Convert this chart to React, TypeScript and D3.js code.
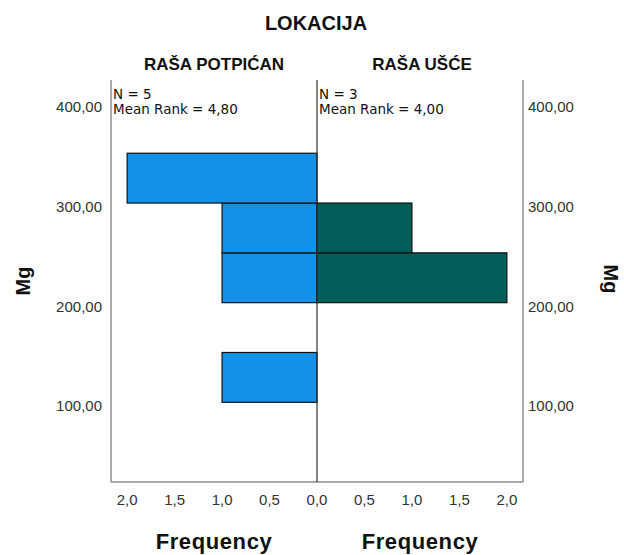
import React from "react";
import * as d3 from "d3";

// ---- data ----
const binStarts = [100, 150, 200, 250, 300, 350];
const binWidth = 50;
const leftCounts = [1, 0, 1, 1, 2, 0]; // RAŠA POTPIĆAN
const rightCounts = [0, 0, 2, 1, 0, 0]; // RAŠA UŠĆE
const groupNames = ["RAŠA POTPIĆAN", "RAŠA UŠĆE"];
const groupN = [5, 3];
const meanRanks = [4.8, 4.0];
const yTicks = [100, 200, 300, 400];
const xTicks = [0, 0.5, 1, 1.5, 2];
const title = "LOKACIJA";
const yLabel = "Mg";
const xLabel = "Frequency";

const W = 624;
const H = 555;
const left = 111;
const mid = 317;
const right = 523;
const top = 80;
const bottom = 482;

const FONT = "'Liberation Sans', Arial, sans-serif";
const FONT2 = "'DejaVu Sans', sans-serif";
const BLUE = "#1490E6";
const GREEN = "#035E5A";

const comma = (s: string) => s.replace(".", ",");

export default function App() {
  const y = d3.scaleLinear().domain([20, 423.5]).range([bottom, top]);
  const xL = d3.scaleLinear().domain([0, 2.17]).range([mid, left]);
  const xR = d3.scaleLinear().domain([0, 2.17]).range([mid, right]);
  const fy = d3.format(".2f");
  const fx = d3.format(".1f");

  return (
    <svg
      width={W}
      height={H}
      style={{ position: "absolute", left: 0, top: 0, background: "#fff" }}
    >
      <rect x={0} y={0} width={W} height={H} fill="#fff" />
      {/* title */}
      <text x={316} y={30} textAnchor="middle" fontFamily={FONT} fontWeight="bold" fontSize={20} fill="#111">
        {title}
      </text>
      <text x={(left + mid) / 2} y={70} textAnchor="middle" fontFamily={FONT} fontWeight="bold" fontSize={17} fill="#111">
        {groupNames[0]}
      </text>
      <text x={(mid + right) / 2 + 2} y={70} textAnchor="middle" fontFamily={FONT} fontWeight="bold" fontSize={17} fill="#111">
        {groupNames[1]}
      </text>

      {/* bars left */}
      {leftCounts.map((c, i) =>
        c > 0 ? (
          <rect
            key={"l" + i}
            x={xL(c)}
            y={y(binStarts[i] + binWidth)}
            width={xL(0) - xL(c)}
            height={y(binStarts[i]) - y(binStarts[i] + binWidth)}
            fill={BLUE}
            stroke="#111"
            strokeWidth={1.2}
          />
        ) : null
      )}
      {rightCounts.map((c, i) =>
        c > 0 ? (
          <rect
            key={"r" + i}
            x={xR(0)}
            y={y(binStarts[i] + binWidth)}
            width={xR(c) - xR(0)}
            height={y(binStarts[i]) - y(binStarts[i] + binWidth)}
            fill={GREEN}
            stroke="#111"
            strokeWidth={1.2}
          />
        ) : null
      )}

      {/* axes lines */}
      <line x1={left} x2={left} y1={top} y2={bottom} stroke="#8c8c8c" strokeWidth={1.5} />
      <line x1={right} x2={right} y1={top} y2={bottom} stroke="#8c8c8c" strokeWidth={1.5} />
      <line x1={left} x2={right} y1={bottom} y2={bottom} stroke="#8c8c8c" strokeWidth={1.5} />
      <line x1={mid} x2={mid} y1={top} y2={bottom} stroke="#333" strokeWidth={1.2} />

      {/* y tick labels */}
      {yTicks.map((t) => (
        <g key={"yt" + t}>
          <text x={102} y={y(t) + 9} textAnchor="end" fontFamily={FONT} fontSize={15} fill="#333">
            {comma(fy(t))}
          </text>
          <text x={528} y={y(t) + 9} textAnchor="start" fontFamily={FONT} fontSize={15} fill="#333">
            {comma(fy(t))}
          </text>
        </g>
      ))}

      {/* x tick labels */}
      {xTicks.map((t) => (
        <text key={"xl" + t} x={xL(t)} y={505} textAnchor="middle" fontFamily={FONT} fontSize={15} fill="#333">
          {comma(fx(t))}
        </text>
      ))}
      {xTicks
        .filter((t) => t > 0)
        .map((t) => (
          <text key={"xr" + t} x={xR(t)} y={505} textAnchor="middle" fontFamily={FONT} fontSize={15} fill="#333">
            {comma(fx(t))}
          </text>
        ))}

      {/* legends */}
      {[0, 1].map((g) => (
        <g key={"lg" + g}>
          <text x={(g === 0 ? left : mid) + 2} y={99} fontFamily={FONT2} fontSize={13.5} fill="#111">
            {`N = ${groupN[g]}`}
          </text>
          <text x={(g === 0 ? left : mid) + 2} y={113.5} fontFamily={FONT2} fontSize={13.5} fill="#111">
            {`Mean Rank = ${comma(fx(meanRanks[g]) + "0")}`}
          </text>
        </g>
      ))}

      {/* axis titles */}
      <text x={214} y={549} textAnchor="middle" fontFamily={FONT} fontWeight="bold" fontSize={22} letterSpacing={0.6} fill="#111">
        {xLabel}
      </text>
      <text x={420} y={549} textAnchor="middle" fontFamily={FONT} fontWeight="bold" fontSize={22} letterSpacing={0.6} fill="#111">
        {xLabel}
      </text>
      <text
        transform={`translate(30,${(top + bottom) / 2}) rotate(-90)`}
        textAnchor="middle"
        fontFamily={FONT}
        fontWeight="bold"
        fontSize={20}
        fill="#111"
      >
        {yLabel}
      </text>
      <text
        transform={`translate(604,${(top + bottom) / 2 - 2}) rotate(90)`}
        textAnchor="middle"
        fontFamily={FONT}
        fontWeight="bold"
        fontSize={20}
        fill="#111"
      >
        {yLabel}
      </text>
    </svg>
  );
}
